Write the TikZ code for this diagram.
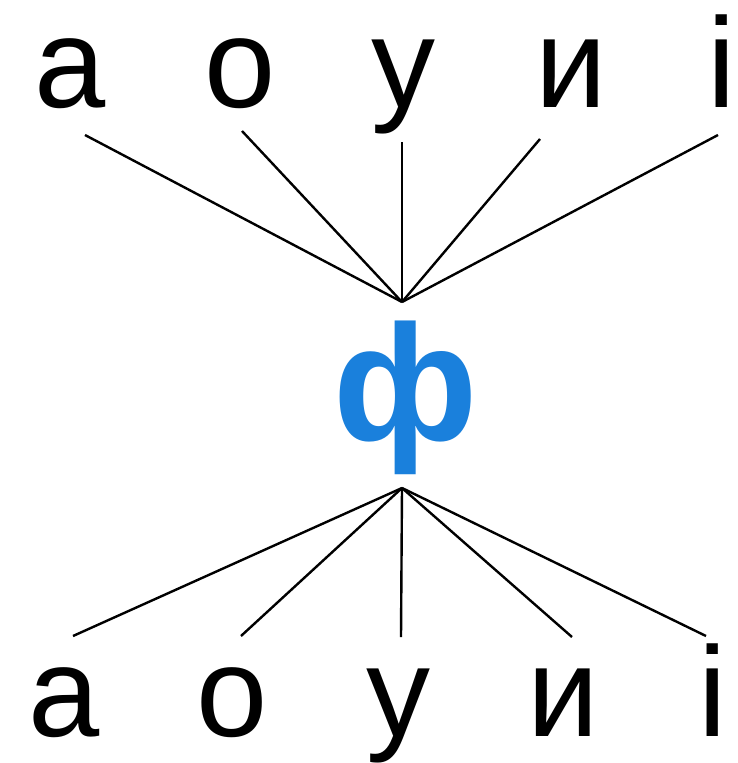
\documentclass[tikz,border=0pt]{standalone}
\usepackage{fontspec}
\setmainfont{Liberation Sans}
\definecolor{fblue}{HTML}{1A80DC}
\begin{document}
\begin{tikzpicture}[x=1pt,y=-1pt,
  letter/.style={inner sep=0pt,anchor=base,font=\fontsize{128}{128}\selectfont},
  link/.style={line width=2.4pt,black}]
\useasboundingbox[fill=white] (0,0) rectangle (738,763);
% top letters
\node[letter] (ta) at (70,107) {а};
\node[letter] (to) at (240,107) {о};
\node[letter] (tu) at (403,107) {у};
\node[letter] (ti) at (571,107) {и};
\node[letter] (tii) at (722,107) {і};
% center letter
\node[inner sep=0pt,anchor=base,text=fblue,font=\fontsize{165}{165}\bfseries\selectfont] (f) at (406,440) {ф};
% hubs
\coordinate (hubT) at (402,302);
\coordinate (hubB) at (402,488);
% top line ends
\coordinate (ea) at (85,135);
\coordinate (eo) at (242,131);
\coordinate (eu) at (402,142);
\coordinate (ei) at (540,139);
\coordinate (eii) at (718,135);
\foreach \e in {ea,eo,eu,ei,eii} \draw[link] (\e) -- (hubT);
% bottom letters
\node[letter] (ba) at (64,736) {а};
\node[letter] (bo) at (232,736) {о};
\node[letter] (bu) at (398,736) {у};
\node[letter] (bi) at (563,736) {и};
\node[letter] (bii) at (713,736) {і};
% bottom line ends
\coordinate (fa) at (73,636);
\coordinate (fo) at (241,636);
\coordinate (fu) at (401,637);
\coordinate (fi) at (572,637);
\coordinate (fii) at (706,636);
\foreach \e in {fa,fo,fu,fi,fii} \draw[link] (hubB) -- (\e);
\end{tikzpicture}
\end{document}
